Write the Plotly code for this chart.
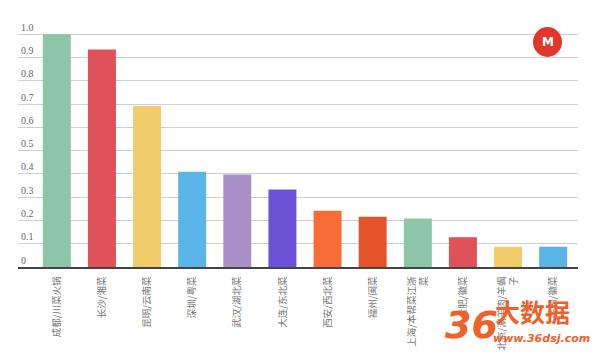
import plotly.graph_objects as go

categories = ["成都/川菜火锅", "长沙/湘菜", "昆明/云南菜", "深圳/粤菜", "武汉/湖北菜", "大连/东北菜",
              "西安/西北菜", "福州/闽菜", "上海/本帮菜江浙<br>菜", "合肥/徽菜", "北京/涮羊肉/羊蝎<br>子", "芜湖/徽菜"]
values = [1.0, 0.935, 0.692, 0.409, 0.397, 0.333, 0.242, 0.216, 0.208, 0.128, 0.087, 0.087]
colors = ["#8cc5a8", "#e0525a", "#f2cb6a", "#5ab4e5", "#a990c8", "#6b52d6",
          "#f86c38", "#e4532a", "#8cc5a8", "#e0525a", "#f2cb6a", "#5ab4e5"]
tick_vals = [0, 0.1, 0.2, 0.3, 0.4, 0.5, 0.6, 0.7, 0.8, 0.9, 1.0]
tick_text = ["0", "0.1", "0.2", "0.3", "0.4", "0.5", "0.6", "0.7", "0.8", "0.9", "1.0"]

fig = go.Figure(go.Bar(x=list(range(len(categories))), y=values, marker=dict(color=colors, line=dict(width=0))))

YMAX = 1.07
L, R, B = 18, 578, 267
T = round(B - 233 * YMAX)
W, H = R - L, B - T

def px(x):
    return (x - L) / W

def py(y):
    return (B - y) / H

fig.update_layout(
    width=596, height=355,
    margin=dict(l=L, r=596 - R, t=T, b=355 - B, autoexpand=False),
    paper_bgcolor="white", plot_bgcolor="white",
    bargap=0.38, showlegend=False,
    xaxis=dict(tickmode="array", tickvals=list(range(len(categories))), ticktext=categories,
               tickangle=-90, range=[-0.86, 11.55], showgrid=False, showline=True, automargin=False,
               linecolor="#444", linewidth=1.5, ticks="", zeroline=False, ticklabelstandoff=4,
               tickfont=dict(family="Noto Sans CJK SC", size=9.5, color="#777")),
    yaxis=dict(range=[0, YMAX], tickmode="array", tickvals=tick_vals, ticktext=tick_text, automargin=False,
               ticklabelposition="inside top", showgrid=True, gridcolor="#cfcfcf", gridwidth=1,
               zeroline=False, showline=False, ticks="",
               tickfont=dict(family="Liberation Serif", size=10, color="#666")),
    shapes=[dict(type="circle", xref="paper", yref="paper", x0=px(533), x1=px(562),
                 y0=py(57), y1=py(27), fillcolor="#e0362c", line=dict(width=0), layer="above")],
    annotations=[
        dict(text="<b>M</b>", xref="paper", yref="paper", x=px(547.5), y=py(42), xanchor="center",
             yanchor="middle", showarrow=False,
             font=dict(family="DejaVu Sans", size=12, color="white")),
        dict(text="<b><i>36</i></b>", xref="paper", yref="paper", x=px(443), y=py(349), xanchor="left",
             yanchor="bottom", showarrow=False, font=dict(family="DejaVu Sans", size=38, color="#f0602a")),
        dict(text="<b>大数据</b>", xref="paper", yref="paper", x=px(493), y=py(331), xanchor="left",
             yanchor="bottom", showarrow=False, font=dict(family="Noto Sans CJK SC", size=25, color="#f0602a")),
        dict(text="<b><i>www.36dsj.com</i></b>", xref="paper", yref="paper", x=px(491), y=py(347), xanchor="left",
             yanchor="bottom", showarrow=False, font=dict(family="DejaVu Sans", size=11, color="#f0602a")),
    ],
)

fig.write_html("out.html")
